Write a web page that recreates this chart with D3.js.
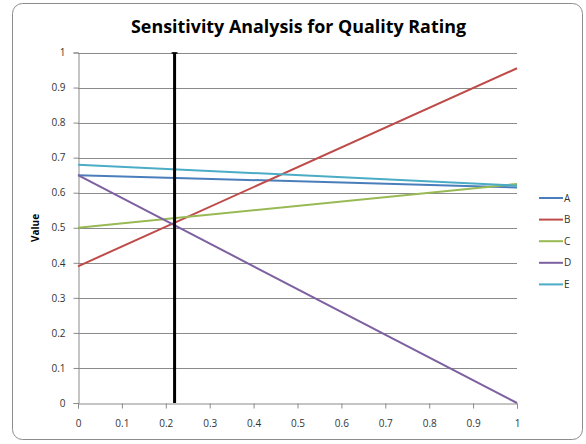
<!DOCTYPE html>
<html><head><meta charset="utf-8">
<script src="https://cdn.jsdelivr.net/npm/d3@7"></script>
<style>body{margin:0;background:#fff}svg{display:block}</style>
</head><body>
<script>
const xValues = [0, 1];
const seriesNames = ["A", "B", "C", "D", "E"];
const seriesA = [0.65, 0.615];
const seriesB = [0.39, 0.955];
const seriesC = [0.50, 0.625];
const seriesD = [0.65, 0.0];
const seriesE = [0.68, 0.62];
const seriesColors = ["#4A7EBB", "#BE4B48", "#98B954", "#7D60A0", "#4BACC6"];
const markerX = 0.22;
const xTicks = [0,0.1,0.2,0.3,0.4,0.5,0.6,0.7,0.8,0.9,1];
const yTicks = [0,0.1,0.2,0.3,0.4,0.5,0.6,0.7,0.8,0.9,1];
const title = "Sensitivity Analysis for Quality Rating";
const yLabel = "Value";

const allSeries = [seriesA, seriesB, seriesC, seriesD, seriesE];
const W = 586, H = 444;
const svg = d3.select("body").append("svg").attr("width", W).attr("height", H);

svg.append("rect").attr("x", 12.5).attr("y", 3.5).attr("width", 570).attr("height", 436)
  .attr("rx", 10).attr("fill", "#fff").attr("stroke", "#8c8c8c").attr("stroke-width", 1);

const x = d3.scaleLinear().domain([0, 1]).range([78, 517]);
const y = d3.scaleLinear().domain([0, 1]).range([403, 52.5]);

// gridlines
svg.append("g").selectAll("line").data(yTicks.filter(d => d > 0)).join("line")
  .attr("x1", x(0)).attr("x2", x(1)).attr("y1", d => Math.round(y(d)) + 0.5).attr("y2", d => Math.round(y(d)) + 0.5)
  .attr("stroke", "#8a8a8a").attr("stroke-width", 1);

// y axis
const yAxis = svg.append("g").attr("transform", `translate(${x(0)+0.5},0)`)
  .call(d3.axisLeft(y).tickValues(yTicks).tickSize(5).tickFormat(d3.format("")));
// x axis
const xAxis = svg.append("g").attr("transform", `translate(0,${Math.round(y(0))+0.5})`)
  .call(d3.axisBottom(x).tickValues(xTicks).tickSize(5).tickFormat(d3.format("")));
[yAxis, xAxis].forEach(g => {
  g.select(".domain").attr("stroke", "#8a8a8a");
  g.selectAll(".tick line").attr("stroke", "#8a8a8a");
  g.selectAll(".tick text").attr("fill", "#333").style("font-family", "'Open Sans', sans-serif").style("font-size", "10px");
});
yAxis.selectAll(".tick text").attr("x", -13);
xAxis.selectAll(".tick text").attr("y", 16);

// series lines
const line = d3.line().x((d, i) => x(xValues[i])).y(d => y(d));
svg.append("g").selectAll("path").data(allSeries).join("path")
  .attr("d", d => line(d)).attr("fill", "none")
  .attr("stroke", (d, i) => seriesColors[i]).attr("stroke-width", 2);

// vertical marker
svg.append("line").attr("x1", x(markerX)).attr("x2", x(markerX)).attr("y1", y(1)).attr("y2", y(0))
  .attr("stroke", "#000").attr("stroke-width", 3);
svg.append("line").attr("x1", x(markerX) - 3).attr("x2", x(markerX) + 3).attr("y1", y(1) + 0.5).attr("y2", y(1) + 0.5)
  .attr("stroke", "#000").attr("stroke-width", 1.5);

// title
svg.append("text").attr("x", 298.5).attr("y", 33).attr("text-anchor", "middle")
  .attr("textLength", 335).attr("lengthAdjust", "spacingAndGlyphs")
  .style("font-family", "'Open Sans', sans-serif").style("font-weight", "bold").style("font-size", "18px")
  .attr("fill", "#000").text(title);

// y label
svg.append("text").attr("transform", "translate(39,228) rotate(-90)").attr("text-anchor", "middle")
  .style("font-family", "'Open Sans', sans-serif").style("font-weight", "bold").style("font-size", "10px")
  .attr("fill", "#000").text(yLabel);

// legend
const lg = svg.append("g").selectAll("g").data(seriesNames).join("g")
  .attr("transform", (d, i) => `translate(0,${198 + i * 21.6})`);
lg.append("line").attr("x1", 539).attr("x2", 563).attr("y1", 0).attr("y2", 0)
  .attr("stroke", (d, i) => seriesColors[i]).attr("stroke-width", 2);
lg.append("text").attr("x", 564).attr("y", 3.5).text(d => d)
  .style("font-family", "'Open Sans', sans-serif").style("font-size", "10px").attr("fill", "#333");
</script>
</body></html>
